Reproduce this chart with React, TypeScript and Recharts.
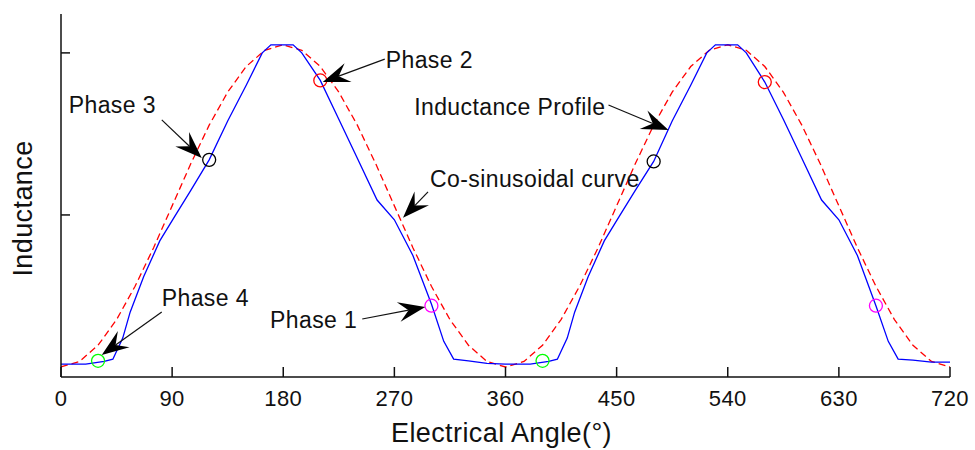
import { ComposedChart, Line, Scatter, XAxis, YAxis, ReferenceDot } from 'recharts'

const angleTicks = [0, 90, 180, 270, 360, 450, 540, 630, 720]
const inductanceTicks = [0.5, 1]

// measured inductance profile (blue)
const profileAngles = [
  0, 20, 35, 42, 50, 56, 67, 80, 92, 105, 120, 135, 150, 163, 170, 188, 195, 210, 225, 240, 256, 270, 285, 300, 310, 318, 330, 345,
  360, 380, 395, 402, 410, 416, 427, 440, 452, 465, 480, 495, 510, 523, 530, 548, 555, 570, 585, 600, 616, 630, 645, 660, 670, 678, 690, 705, 720,
]
const profileValues = [
  0.04, 0.04, 0.048, 0.055, 0.12, 0.2, 0.31, 0.42, 0.495, 0.575, 0.67, 0.79, 0.9, 1.0, 1.025, 1.025, 1.0, 0.915, 0.795, 0.675, 0.546, 0.485, 0.375, 0.225, 0.11, 0.055, 0.05, 0.042,
  0.04, 0.04, 0.048, 0.055, 0.12, 0.2, 0.31, 0.42, 0.495, 0.575, 0.665, 0.79, 0.9, 1.0, 1.025, 1.025, 1.0, 0.91, 0.795, 0.675, 0.546, 0.485, 0.375, 0.22, 0.11, 0.055, 0.052, 0.046, 0.046,
]

// co-sinusoidal approximation (red dashed), every 15 degrees
const cosAngles = [
  0, 15, 30, 45, 60, 75, 90, 105, 120, 135, 150, 165, 180, 195, 210, 225, 240, 255, 270, 285, 300, 315, 330, 345,
  360, 375, 390, 405, 420, 435, 450, 465, 480, 495, 510, 525, 540, 555, 570, 585, 600, 615, 630, 645, 660, 675, 690, 705, 720,
]
const cosValues = [
  0.031, 0.048, 0.098, 0.177, 0.28, 0.399, 0.528, 0.657, 0.777, 0.879, 0.958, 1.008, 1.025, 1.008, 0.958, 0.879, 0.777, 0.657, 0.528, 0.399, 0.28, 0.177, 0.098, 0.048,
  0.031, 0.048, 0.098, 0.177, 0.28, 0.399, 0.528, 0.657, 0.777, 0.879, 0.958, 1.008, 1.025, 1.008, 0.958, 0.879, 0.777, 0.657, 0.528, 0.399, 0.28, 0.177, 0.098, 0.048, 0.031,
]

// phase switching points
const phase4Angles = [30, 390]
const phase4Values = [0.05, 0.05]
const phase3Angles = [120, 480]
const phase3Values = [0.67, 0.665]
const phase2Angles = [210, 570]
const phase2Values = [0.915, 0.91]
const phase1Angles = [300, 660]
const phase1Values = [0.22, 0.22]

// annotation texts and where their arrows point
const noteLabels = ['Phase 3', 'Phase 2', 'Inductance Profile', 'Co-sinusoidal curve', 'Phase 1', 'Phase 4']
const noteAngles = [114, 212, 492, 277, 295, 33]
const noteValues = [0.676, 0.91, 0.762, 0.491, 0.216, 0.068]

// pixel offsets from the arrow tip: tail, text position, text anchor
const noteLayout = [
  { tail: [-40, -38], text: [-133, -45], anchor: 'start' },
  { tail: [62, -23], text: [63, -14], anchor: 'start' },
  { tail: [-60, -25], text: [-63, -15], anchor: 'end' },
  { tail: [25, -26], text: [27, -31], anchor: 'start' },
  { tail: [-63, 12], text: [-68, 21], anchor: 'end' },
  { tail: [60, -43], text: [60, -49], anchor: 'start' },
]

const toPoints = (xs: number[], ys: number[]) => xs.map((a, i) => ({ angle: a, value: ys[i] }))

const profile = toPoints(profileAngles, profileValues)
const cosCurve = toPoints(cosAngles, cosValues)

const FONT = '"Liberation Sans", Arial, Helvetica, sans-serif'
const INK = '#111'

const XTick = (props: any) => {
  const { x, y, payload } = props
  return (
    <g>
      <line x1={x} x2={x} y1={y} y2={y - 10} stroke={INK} strokeWidth={1.5} />
      <text x={x} y={y + 29} textAnchor="middle" fontSize={22} fontFamily={FONT} fill={INK} letterSpacing={0.4}>
        {payload.value}
      </text>
    </g>
  )
}

const YTick = (props: any) => {
  const { x, y } = props
  return <line x1={x} x2={x + 9} y1={y} y2={y} stroke={INK} strokeWidth={1.5} />
}

const XTitle = (props: any) => {
  const { viewBox } = props
  return (
    <text x={viewBox.x + viewBox.width / 2 - 4} y={viewBox.y + 65} textAnchor="middle" fontSize={27} fontFamily={FONT} fill={INK} letterSpacing={0.4}>
      Electrical Angle(°)
    </text>
  )
}

const YTitle = (props: any) => {
  const { viewBox } = props
  const cx = 23
  const cy = viewBox.y + viewBox.height / 2 + 13
  return (
    <text x={cx} y={cy} transform={`rotate(-90 ${cx} ${cy})`} textAnchor="middle" dominantBaseline="central" fontSize={27} fontFamily={FONT} fill={INK} letterSpacing={0.4}>
      Inductance
    </text>
  )
}

const ring = (color: string) => (props: any) => (
  <circle cx={props.cx} cy={props.cy} r={6.5} fill="none" stroke={color} strokeWidth={1.3} />
)

const arrowNote = (i: number) => (props: any) => {
  const { cx, cy } = props
  const lay = noteLayout[i]
  const tx = cx + lay.tail[0]
  const ty = cy + lay.tail[1]
  // notched arrow head pointing from tail to tip
  const ang = Math.atan2(cy - ty, cx - tx)
  const len = 27
  const half = 10
  const notch = 17
  const bx = cx - len * Math.cos(ang)
  const by = cy - len * Math.sin(ang)
  const nx = cx - notch * Math.cos(ang)
  const ny = cy - notch * Math.sin(ang)
  const px = -Math.sin(ang) * half
  const py = Math.cos(ang) * half
  const head = `${cx},${cy} ${bx + px},${by + py} ${nx},${ny} ${bx - px},${by - py}`
  return (
    <g>
      <line x1={tx} y1={ty} x2={nx} y2={ny} stroke={INK} strokeWidth={1.2} />
      <polygon points={head} fill="#000" />
      <text x={cx + lay.text[0]} y={cy + lay.text[1]} textAnchor={lay.anchor as any} fontSize={23} fontFamily={FONT} fill={INK} letterSpacing={0.4}>
        {noteLabels[i]}
      </text>
    </g>
  )
}

export default function App() {
  return (
    <div style={{ position: 'absolute', left: 0, top: 0, width: 975, height: 450, background: '#fff' }}>
      <ComposedChart width={975} height={450} margin={{ top: 14, right: 25, bottom: 13, left: 0 }}>
        <XAxis
          type="number"
          dataKey="angle"
          domain={[0, 720]}
          ticks={angleTicks}
          interval={0}
          height={60}
          tickLine={false}
          tickSize={0}
          tickMargin={0}
          tick={<XTick />}
          axisLine={{ stroke: INK, strokeWidth: 1.5 }}
          label={<XTitle />}
        />
        <YAxis
          type="number"
          dataKey="value"
          domain={[0, 1.12]}
          ticks={inductanceTicks}
          interval={0}
          width={61}
          tickLine={false}
          tickSize={0}
          tickMargin={0}
          tick={<YTick />}
          axisLine={{ stroke: INK, strokeWidth: 1.5 }}
          label={<YTitle />}
        />
        <Line data={cosCurve} dataKey="value" type="linear" stroke="#ff0000" strokeWidth={1.3} strokeDasharray="7 4" dot={false} isAnimationActive={false} />
        <Line data={profile} dataKey="value" type="linear" stroke="#0000ff" strokeWidth={1.3} dot={false} isAnimationActive={false} />
        <Scatter data={toPoints(phase4Angles, phase4Values)} shape={ring('#00ff00')} isAnimationActive={false} />
        <Scatter data={toPoints(phase3Angles, phase3Values)} shape={ring('#000000')} isAnimationActive={false} />
        <Scatter data={toPoints(phase2Angles, phase2Values)} shape={ring('#ff0000')} isAnimationActive={false} />
        <Scatter data={toPoints(phase1Angles, phase1Values)} shape={ring('#ff00ff')} isAnimationActive={false} />
        {noteLabels.map((label, i) => (
          <ReferenceDot key={label} x={noteAngles[i]} y={noteValues[i]} r={0} shape={arrowNote(i)} />
        ))}
      </ComposedChart>
    </div>
  )
}
